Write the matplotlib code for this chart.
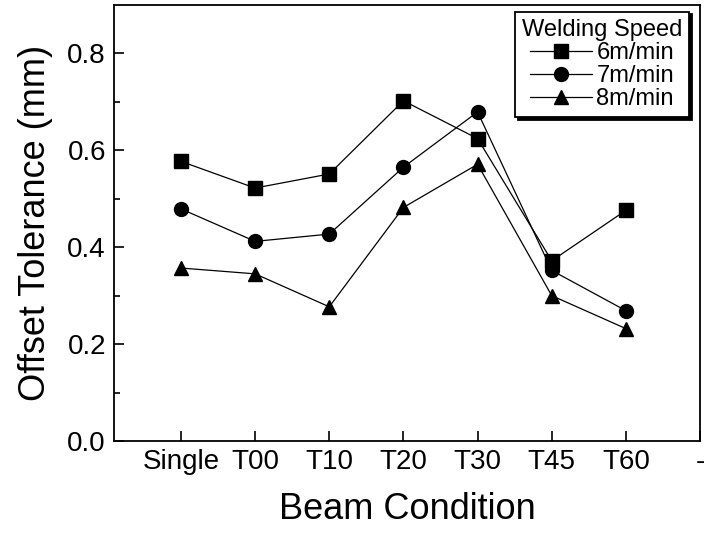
import matplotlib.pyplot as plt

plt.rcParams['font.family'] = ['Liberation Sans', 'DejaVu Sans']

# Beam conditions on the x axis (last tick is a plain dash, as in the original)
conditions = ['Single', 'T00', 'T10', 'T20', 'T30', 'T45', 'T60']
tick_labels = conditions + ['-']

# Offset tolerance (mm) per welding speed
speed_6 = [0.577, 0.522, 0.551, 0.702, 0.624, 0.372, 0.476]
speed_7 = [0.479, 0.412, 0.427, 0.565, 0.679, 0.352, 0.269]
speed_8 = [0.357, 0.345, 0.277, 0.482, 0.571, 0.300, 0.232]

series_labels = ['6m/min', '7m/min', '8m/min']
markers = ['s', 'o', '^']

fig = plt.figure(figsize=(7.05, 5.34), dpi=100)
ax = fig.add_axes([0.162, 0.174, 0.831, 0.817])

x = list(range(len(conditions)))
for vals, lab, mk in zip([speed_6, speed_7, speed_8], series_labels, markers):
    ax.plot(x, vals, color='black', lw=0.9, marker=mk, markersize=10,
            markerfacecolor='black', markeredgecolor='black', label=lab)

ax.set_xlim(-0.9, 7)
ax.set_ylim(0, 0.9)
ax.set_xticks(range(len(tick_labels)))
ax.set_xticklabels(tick_labels)
ax.set_yticks([0.0, 0.2, 0.4, 0.6, 0.8])
ax.set_yticks([0.1, 0.3, 0.5, 0.7], minor=True)
ax.tick_params(which='both', direction='in', labelsize=20, width=1.2)
ax.tick_params(which='major', length=7, pad=6)
ax.tick_params(which='minor', length=4)
for s in ax.spines.values():
    s.set_linewidth(1.3)

ax.set_xlabel('Beam Condition', fontsize=26, labelpad=12)
ax.set_ylabel('Offset Tolerance (mm)', fontsize=26, labelpad=10)

leg = ax.legend(title='Welding Speed', loc='upper right',
                bbox_to_anchor=(0.99, 0.995), fontsize=17, title_fontsize=17,
                handlelength=2.6, handletextpad=0.2, borderpad=0.3,
                borderaxespad=0.2, labelspacing=0.05, fancybox=False,
                framealpha=1, edgecolor='black',
                shadow={'color': 'black', 'alpha': 1})
leg.get_frame().set_linewidth(1.3)

plt.savefig('out.png', dpi=100)
